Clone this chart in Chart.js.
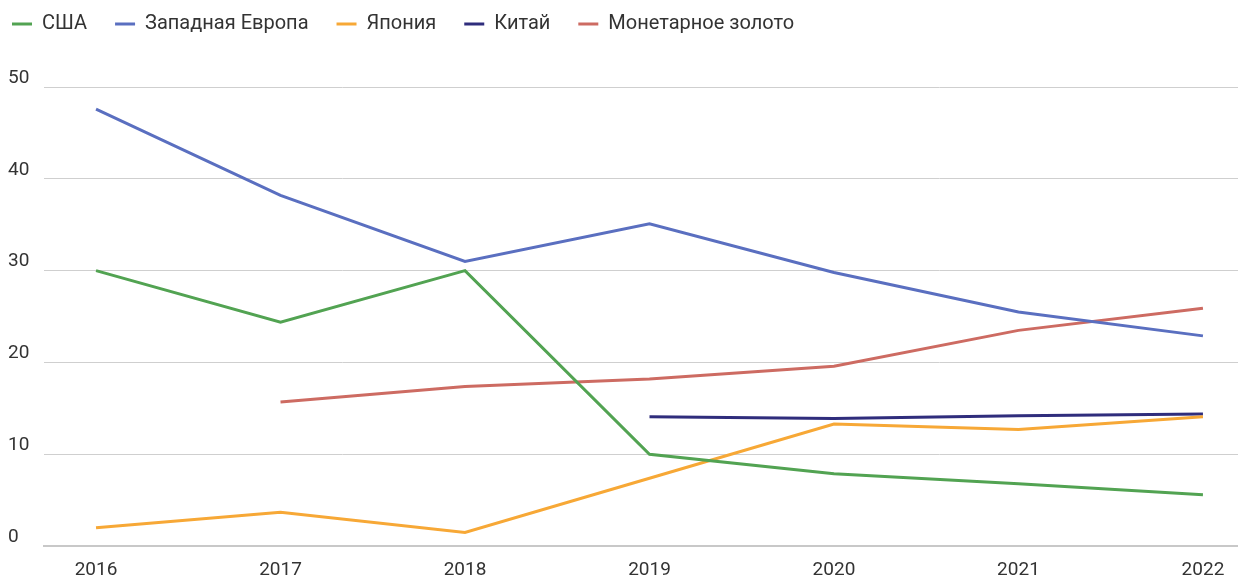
<!DOCTYPE html>
<html>
<head>
<meta charset="utf-8">
<script src="https://cdn.jsdelivr.net/npm/chart.js@4/dist/chart.umd.min.js"></script>
<style>
  html, body { margin: 0; padding: 0; background: #fff; }
  #wrap { width: 1238px; height: 578px; }
</style>
</head>
<body>
<div id="wrap"><canvas id="reservesChart"></canvas></div>
<script>
// data
var years = ['2016', '2017', '2018', '2019', '2020', '2021', '2022'];
var usa = [30, 24.4, 30, 10, 7.9, 6.8, 5.6];
var westEurope = [47.6, 38.2, 31, 35.1, 29.8, 25.5, 22.9];
var japan = [2.0, 3.7, 1.5, 7.4, 13.3, 12.7, 14.1];
var china = [null, null, null, 14.1, 13.9, 14.2, 14.4];
var gold = [null, 15.7, 17.4, 18.2, 19.6, 23.5, 25.9];
var yTicks = [0, 10, 20, 30, 40, 50];

Chart.defaults.font.family = 'Roboto';
Chart.defaults.color = '#333';

function line(label, data, color) {
	return {
		label: label,
		data: data,
		borderColor: color,
		backgroundColor: color,
		borderWidth: 3,
		pointRadius: 0,
		tension: 0,
		fill: false
	};
}

// legend sits higher and further left than chart.js puts it by default
var legendShift = {
	id: 'legendShift',
	afterLayout: function(chart) {
		var l = chart.legend;
		l.left -= 24; l.right -= 24;
		l.top -= 43; l.bottom -= 43;
	}
};

var ctx = document.getElementById('reservesChart').getContext('2d');
var chart = new Chart(ctx, {
	type: 'line',
	data: {
		labels: years,
		datasets: [
			line('США', usa, '#52a352'),
			line('Западная Европа', westEurope, '#5a6fc0'),
			line('Япония', japan, '#f7a836'),
			line('Китай', china, '#2f2d7c'),
			line('Монетарное золото', gold, '#cd6b62')
		]
	},
	plugins: [legendShift],
	options: {
		responsive: true,
		maintainAspectRatio: false,
		animation: false,
		layout: { padding: { top: 29, left: 8, right: 0, bottom: -17 } },
		plugins: {
			legend: {
				align: 'start',
				labels: {
					boxWidth: 20,
					boxHeight: 3,
					padding: 28,
					color: '#333',
					font: { size: 20 },
					generateLabels: function(chart) {
						var items = Chart.defaults.plugins.legend.labels.generateLabels(chart);
						items.forEach(function(it) { it.lineWidth = 0; });
						return items;
					}
				}
			},
			tooltip: { enabled: false }
		},
		scales: {
			x: {
				type: 'linear',
				min: 2015.718,
				max: 2022.19,
				grid: { display: false, drawTicks: false },
				border: { color: '#c8c8c8', width: 2 },
				afterBuildTicks: function(s) {
					s.ticks = years.map(function(y) { return { value: +y }; });
				},
				ticks: {
					maxRotation: 0,
					padding: 13,
					color: '#333',
					font: { size: 19 },
					callback: function(v) { return String(v); }
				}
			},
			y: {
				min: 0,
				max: 50,
				afterBuildTicks: function(s) {
					s.ticks = yTicks.map(function(v) { return { value: v }; });
				},
				afterFit: function(s) { s.width = 36; },
				grid: { color: '#cfcfcf', lineWidth: 1, drawTicks: false },
				border: { display: false },
				ticks: {
					crossAlign: 'far',
					labelOffset: -9,
					padding: 0,
					color: '#333',
					font: { size: 19 }
				}
			}
		}
	}
});
</script>
</body>
</html>
